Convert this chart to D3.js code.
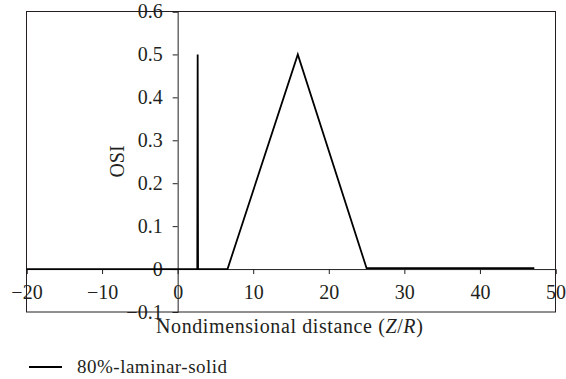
<!DOCTYPE html>
<html lang="en">
	<head>
		<meta charset="utf-8">
		<title>OSI</title>
		<script src="https://d3js.org/d3.v7.min.js"></script>
		<style type="text/css">
			body { margin: 0; background: #fff; }
		</style>
	</head>
	<body>
		<script type="text/javascript">
			var w = 566
			var h = 379
			var serif = "'Liberation Serif', 'Times New Roman', serif"

			// data
			var distance = [-20, 2.6, 2.65, 2.7, 6.6, 15.9, 25, 47.2]
			var osi = [0, 0, 0.5, 0, 0, 0.5, 0.002, 0.002]
			var xTicks = [-20, -10, 0, 10, 20, 30, 40, 50]
			var xTickLabels = ["\u221220", "\u221210", "0", "10", "20", "30", "40", "50"]
			var yTicks = [-0.1, 0, 0.1, 0.2, 0.3, 0.4, 0.5, 0.6]
			var yTickLabels = ["\u22120.1", "0", "0.1", "0.2", "0.3", "0.4", "0.5", "0.6"]
			var seriesName = "80%-laminar-solid"

			var points = distance.map(function(d, i) { return [d, osi[i]] })

			var x = d3.scaleLinear().domain([-20, 50]).range([26.5, 555.5])
			var y = d3.scaleLinear().domain([-0.1, 0.6]).range([312, 11.5])

			var svg = d3.select("body")
						.append("svg")
						.attr("width", w)
						.attr("height", h)

			// frame
			svg.append("rect")
				.attr("x", x(-20))
				.attr("y", y(0.6))
				.attr("width", x(50) - x(-20))
				.attr("height", y(-0.1) - y(0.6))
				.style("fill", "none")
				.style("stroke", "#231f20")
				.style("stroke-width", 1)

			// x axis through y = 0
			var xAxis = d3.axisBottom(x)
							.tickValues(xTicks)
							.tickFormat(function(d, i) { return xTickLabels[i] })
							.tickSize(5)
							.tickPadding(11)
			svg.append("g")
				.attr("transform", "translate(0," + y(0) + ")")
				.call(xAxis)

			// y axis through x = 0
			var yAxis = d3.axisLeft(y)
							.tickValues(yTicks)
							.tickFormat(function(d, i) { return yTickLabels[i] })
							.tickSize(5)
							.tickPadding(10)
			svg.append("g")
				.attr("transform", "translate(" + x(0) + ",0)")
				.call(yAxis)

			svg.selectAll(".domain, .tick line")
				.style("stroke", "#231f20")
				.style("stroke-width", 1)
			svg.selectAll(".tick text")
				.style("font-family", serif)
				.style("font-size", "20px")
				.style("fill", "#231f20")

			// the series
			var line = d3.line()
						.x(function(d) { return x(d[0]) })
						.y(function(d) { return y(d[1]) })

			svg.append("path")
				.datum(points)
				.attr("d", line)
				.style("fill", "none")
				.style("stroke", "#000")
				.style("stroke-width", 1.8)
				.style("stroke-linejoin", "miter")

			// axis titles
			svg.append("text")
				.attr("transform", "translate(124,161.5) rotate(-90)")
				.attr("text-anchor", "middle")
				.style("font-family", serif)
				.style("font-size", "20px")
				.style("fill", "#231f20")
				.text("OSI")

			var xt = svg.append("text")
						.attr("x", 156)
						.attr("y", 333)
						.style("font-family", serif)
						.style("font-size", "20px")
						.style("fill", "#231f20")
						.style("letter-spacing", "0.6px")
			xt.append("tspan").text("Nondimensional distance (")
			xt.append("tspan").style("font-style", "italic").text("Z")
			xt.append("tspan").text("/")
			xt.append("tspan").style("font-style", "italic").text("R")
			xt.append("tspan").text(")")

			// legend
			svg.append("line")
				.attr("x1", 29).attr("x2", 62)
				.attr("y1", 367).attr("y2", 367)
				.style("stroke", "#000")
				.style("stroke-width", 1.8)
			svg.append("text")
				.attr("x", 77)
				.attr("y", 372.5)
				.style("font-family", serif)
				.style("font-size", "19px")
				.style("fill", "#231f20")
				.style("letter-spacing", "0.5px")
				.text(seriesName)
		</script>
	</body>
</html>
